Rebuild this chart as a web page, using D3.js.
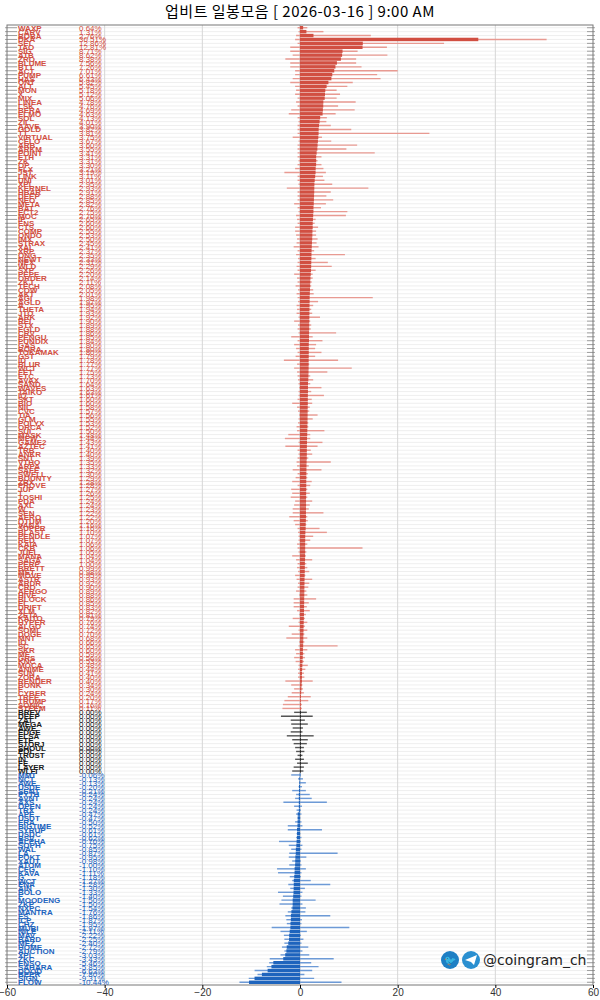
<!DOCTYPE html>
<html><head><meta charset="utf-8">
<script src="https://cdn.jsdelivr.net/npm/d3@7"></script>
<style>body{margin:0;background:#fff}</style>
</head><body><svg id="c" width="600" height="1000"></svg>
<script>
// rows: name, change %, intraday low %, intraday high %
const upNames = ["WAXP","CARV","BOBA","DKA","SEI","TAO","SIG","ATB","ZRO","BLUME","BTT","ACT","PUMP","HAS","ONT","ALT","MON","X","MIX","LINEA","LSK","BERA","ELMO","SOL","ZIL","AAVE","GOLD","TT","VIRTUAL","CELO","ARB","ARKM","POINT","ETH","ZK","OP","FLX","JST","LINK","UNI","XPL","KERNEL","HBAR","DEEP","NEO","META","BAT","ECT2","MOC","IP","ENS","CTS","COMP","ONDO","IMX","STRAX","XAI","XRP","ONG","NEWT","NEX","WLD","SXP","PEPE","ORDER","ZKJ","TECH","COW","AKT","AGI","AGLD","A","THETA","JTO","ARK","REI","STX","EGLD","CRV","PENGU","PUNDIX","GAS","BORA","TOKAMAK","GST","ID","BLUR","WCT","FET","ETC","AVAX","SAND","WAVES","TAIKO","IQ","SXT","BIO","NIL","CVC","TIA","GLM","POLYX","ORCA","SUI","MASK","MEW","GAME2","AZTEC","TRB","ANKR","SNT","VTHO","ARPA","SAFE","SWELL","BOUNTY","ZRX","PROVE","JUP","T","TOSHI","PDA","AXL","W","SEN","AERO","QTUM","VANA","SUPER","BLAST","PENDLE","RED","KAIA","CKB","JUEL","MANA","SAGA","PERP","BRETT","MET","MOVE","ASTR","ARDR","CRO","AERGO","HIVE","BLOCK","EL","DRIFT","XLM","ZETA","KAITO","HYPER","ALGO","SOMI","DOGE","MNT","IO","SC","SKR","ME","GRS","KNC","MOCA","ANIME","SUN","ZORA","RENDER","BONK","F","CYBER","TREE","TRUMP","SONIC","STEEM"];
const upChange = [0.64,1.31,2.76,36.51,12.86,12.81,8.71,8.62,8.38,7.56,7.26,7.01,6.61,6.43,5.82,5.45,5.18,5.12,5.06,4.78,4.76,4.69,4.63,4.13,4.01,3.90,3.82,3.81,3.75,3.67,3.60,3.55,3.41,3.31,3.31,3.30,3.21,3.19,3.11,3.01,2.95,2.93,2.91,2.88,2.85,2.82,2.76,2.75,2.70,2.65,2.60,2.60,2.55,2.53,2.50,2.45,2.41,2.37,2.35,2.33,2.31,2.29,2.26,2.20,2.14,2.11,2.08,2.05,2.01,1.98,1.97,1.95,1.94,1.93,1.92,1.90,1.89,1.88,1.86,1.85,1.84,1.80,1.80,1.80,1.79,1.78,1.77,1.77,1.75,1.73,1.70,1.64,1.63,1.63,1.61,1.60,1.60,1.58,1.57,1.56,1.55,1.53,1.52,1.50,1.48,1.44,1.43,1.41,1.40,1.40,1.39,1.35,1.33,1.32,1.30,1.29,1.28,1.28,1.27,1.26,1.25,1.24,1.24,1.23,1.22,1.22,1.20,1.16,1.16,1.10,1.07,1.07,1.06,1.06,1.05,1.04,1.04,1.00,0.99,0.98,0.95,0.93,0.92,0.90,0.89,0.88,0.86,0.85,0.83,0.82,0.81,0.79,0.76,0.74,0.72,0.70,0.68,0.66,0.65,0.60,0.59,0.56,0.53,0.48,0.44,0.41,0.40,0.40,0.34,0.30,0.24,0.20,0.17,0.16,0.11];
const upLow = [-0.5,-0.3,-0.8,-1,-0.5,-2,-2,-1.5,-3,-2,-2,-1,-1,-1.5,-2,-1,-0.8,-1,-0.5,-0.8,-0.5,-1.8,-2.3,-0.5,-0.3,-0.5,-0.5,-0.5,-1.5,-0.3,-0.5,-0.5,-0.5,-0.5,-0.3,-0.5,-1,-3.2,-0.5,-0.5,-0.3,-2.7,-0.5,-0.5,-0.5,-1.2,-0.5,-0.3,-0.8,-0.6,-0.5,-1,-1,-0.8,-0.6,-0.7,-1.3,-0.5,-0.8,-0.4,-0.5,-0.7,-0.5,-1.2,-0.6,-0.5,-0.9,-0.4,-0.7,-0.5,-0.4,-0.7,-0.6,-0.7,-0.3,-1.2,-0.4,-0.5,-0.3,-1.8,-0.5,-1.2,-0.8,-0.5,-0.9,-3.3,-0.6,-1.2,-0.6,-0.5,-0.4,-0.3,-0.2,-0.3,-0.3,-0.5,-1.6,-0.6,-0.4,-0.2,-0.3,-0.4,-0.7,-0.6,-2.4,-3.1,-0.3,-3.0,-0.5,-0.3,-0.5,-0.7,-0.6,-1.5,-0.5,-0.9,-1.6,-0.5,-1.8,-1.6,-1.9,-1.0,-1.2,-1.5,-1.5,-2.2,-1.3,-1.0,-0.5,-0.4,-0.3,-0.3,-0.6,-0.5,-0.3,-1.6,-0.8,-0.5,-0.6,-0.4,-1.0,-0.7,-0.4,-0.5,-0.8,-0.2,-1.3,-1.3,-1.3,-0.6,-0.2,-1.5,-0.3,-2.3,-0.3,-1.7,-2.8,-0.2,-0.3,-1.0,-0.8,-1.2,-0.9,-0.3,-0.4,-0.4,-0.4,-3.0,-1.8,-1.2,-1.7,-2.5,-3.2,-3.5,-3.6];
const upHigh = [1.5,4.8,14.5,50.5,29.5,17.8,11.8,17.9,11.5,11.5,12.6,20.0,15.8,16.5,10.8,9.7,7.5,8.2,7.5,11.4,7.8,11.2,7.3,5.5,5.4,6.3,10.5,26.5,4.5,6.4,11.7,9.5,15.3,4.4,3.6,4.4,4.8,5.3,4.7,5.0,6.6,14.0,6.3,5.4,6.8,5.3,4.3,9.7,9.4,3.2,3.0,3.7,3.3,3.3,3.6,3.4,3.8,2.9,9.2,3.2,5.7,6.5,3.2,2.6,2.6,2.4,2.3,2.7,2.8,14.9,3.7,2.7,2.3,2.5,4.1,2.1,2.3,2.2,7.4,2.6,4.6,3.3,3.1,4.4,3.1,7.8,1.9,10.6,5.6,2.1,2.7,2.1,4.4,2.3,4.9,2.4,2.5,2.0,1.9,3.6,2.6,1.7,1.7,5.0,2.1,2.1,4.6,3.6,2.2,2.5,1.7,6.3,1.8,4.4,1.6,1.5,2.4,2.1,1.5,2.0,1.5,2.5,2.0,1.8,4.8,1.5,1.6,1.3,4.0,5.5,2.7,2.1,1.5,12.8,1.3,1.2,2.5,1.3,1.5,1.9,1.1,2.5,1.9,1.7,1.3,1.5,3.3,1.8,1.4,2.0,1.2,1.0,1.5,1.0,1.5,0.9,1.5,0.9,7.7,1.5,0.9,1.0,0.8,1.6,1.1,0.8,0.9,2.6,0.5,0.6,0.8,2.2,1.7,0.4,0.4];

const flatNames = ["BREV","DEEP","ZAT","MEGA","AWE","EDGE","ELSA","ETE","STORJ","SHOUL","POL","TRUST","IN","FE","LAYER","WLFI"];
const flatLow = [-1.2,-3.9,-1.9,-1.8,-1.5,-1.9,-2.7,-1.6,-1.3,-1.0,-0.8,-0.5,-1.0,-0.6,-1.3,-1.6];
const flatHigh = [1.4,2.6,1.0,1.6,0.6,0.5,2.8,1.6,1.4,0.8,0.9,0.5,0.8,1.6,0.8,0.7];

const downNames = ["MMT","NCT","AWE","USDE","SENT","PYTH","AVNT","AXS","OPEN","TRX","APE","USDT","ERA","BIGTIME","SYRUP","USDC","BSV","ALPHA","SOPH","WAL","LA","POKT","XAUT","ATOM","CFG","KAVA","G","WCT","ENA","AIN","BOLO","F","MOODENG","ZKP","NXPC","MANTRA","ES","ICP","CHZ","MUBI","NILE","MAV","BARD","MEZ","HOME","AUCTION","XPL","ZKC","ENSO","SAHARA","DOOD","BEER","SIGN","FLOW"];
const downChange = [-0.06,-0.13,-0.13,-0.20,-0.21,-0.24,-0.24,-0.24,-0.24,-0.24,-0.47,-0.47,-0.50,-0.52,-0.61,-0.61,-0.62,-0.70,-0.75,-0.85,-0.87,-0.95,-0.98,-1.00,-1.10,-1.11,-1.18,-1.27,-1.28,-1.30,-1.33,-1.40,-1.50,-1.50,-1.54,-1.76,-1.86,-1.87,-1.95,-1.97,-2.11,-2.22,-2.25,-2.40,-2.72,-2.79,-3.03,-3.43,-5.46,-5.85,-6.63,-7.80,-9.31,-10.44];
const downLow = [-1.8,-0.4,-0.2,-0.3,-1.6,-0.8,-1.0,-3.4,-1.2,-0.7,-0.8,-0.5,-1.0,-2.5,-2.5,-0.7,-0.8,-4.3,-2.3,-1.8,-2.2,-2.3,-1.6,-2.2,-4.7,-4.5,-2.1,-1.6,-2.4,-2.0,-4.5,-3.5,-3.8,-4.2,-1.8,-2.5,-3.0,-2.8,-2.7,-5.8,-4.0,-3.3,-3.2,-3.2,-3.7,-3.2,-4.0,-6.2,-6.3,-6.8,-9.3,-8.7,-10.5,-12.4];
const downHigh = [0.1,0.6,1.2,0.4,1.2,2.0,2.4,5.5,0.4,0.2,0.3,0.1,0.3,0.5,4.5,0.1,0.3,0.2,0.5,0.3,7.7,1.3,0.2,0.3,1.2,0.3,0.2,2.2,6.2,1.0,0.5,0.3,3.2,0.5,1.2,1.1,6.2,0.4,0.3,10.1,1.4,0.2,0.7,0.3,1.7,0.5,1.9,6.9,2.3,3.8,2.5,0.9,2.9,8.5];
const xTicks = [-60,-40,-20,0,20,40,60];

const rows = [];
upNames.forEach((n,i)=>rows.push({n, v:upChange[i], lo:upLow[i], hi:upHigh[i], g:"up"}));
flatNames.forEach((n,i)=>rows.push({n, v:0, lo:flatLow[i], hi:flatHigh[i], g:"flat"}));
downNames.forEach((n,i)=>rows.push({n, v:downChange[i], lo:downLow[i], hi:downHigh[i], g:"down"}));

const col = {up:"#d14f42", flat:"#1a1a1a", down:"#1e64bd"};
const light = {up:"#e89a92", flat:"#555", down:"#6d9ad6"};

const svg = d3.select("#c");
const L = 7, R = 593, T = 25, B = 985;
const x = d3.scaleLinear().domain([-60,60]).range([L,R]);
const y = d3.scaleBand().domain(rows.map((d,i)=>i)).range([T+1,B-1]).paddingInner(0.12);

svg.append("text").attr("x",300).attr("y",17).attr("text-anchor","middle")
  .attr("font-family","'Noto Sans CJK KR', sans-serif").attr("font-size",15)
  .attr("letter-spacing",0.5)
  .text("업비트 일봉모음 [ 2026-03-16 ]  9:00 AM");

const mid = (d,i)=>y(i)+y.bandwidth()/2;
// row grid
svg.append("g").selectAll("line").data(rows).enter().append("line")
  .attr("x1",L).attr("x2",R).attr("y1",mid).attr("y2",mid)
  .attr("stroke","#e4e4e4").attr("stroke-width",0.6);
// side ticks
svg.append("g").selectAll("line").data(rows).enter().append("line")
  .attr("x1",L-2).attr("x2",L+10).attr("y1",mid).attr("y2",mid)
  .attr("stroke","#666").attr("stroke-width",0.6);
svg.append("g").selectAll("line").data(rows).enter().append("line")
  .attr("x1",R-6).attr("x2",R+2).attr("y1",mid).attr("y2",mid)
  .attr("stroke","#666").attr("stroke-width",0.6);

// vertical grid
svg.append("g").selectAll("line").data(xTicks.slice(1,-1)).enter().append("line")
  .attr("x1",d=>x(d)).attr("x2",d=>x(d)).attr("y1",T).attr("y2",B)
  .attr("stroke",d=>d===0?"#bbb":"#d6d6d6").attr("stroke-width",1);
svg.append("rect").attr("x",L).attr("y",T).attr("width",R-L).attr("height",B-T)
  .attr("fill","none").attr("stroke","#777").attr("stroke-width",1);

// high-low range
svg.append("g").selectAll("line").data(rows).enter().append("line")
  .attr("x1",d=>x(d.lo)).attr("x2",d=>x(d.hi)).attr("y1",mid).attr("y2",mid)
  .attr("stroke",d=>light[d.g]).attr("stroke-width",1.4);
// change bars
svg.append("g").selectAll("rect").data(rows).enter().append("rect")
  .attr("x",d=>x(Math.min(0,d.v))).attr("width",d=>Math.max(0.8,Math.abs(x(d.v)-x(0))))
  .attr("y",(d,i)=>y(i)).attr("height",y.bandwidth())
  .attr("fill",d=>col[d.g]);

// labels
const lab = svg.append("g").attr("font-family","'Liberation Sans', Arial, sans-serif")
  .attr("font-size",8).attr("font-weight","bold");
lab.selectAll(".n").data(rows).enter().append("text")
  .attr("x",18).attr("y",(d,i)=>mid(d,i)+3)
  .attr("fill",d=>col[d.g]).text(d=>d.n);
lab.selectAll(".v").data(rows).enter().append("text")
  .attr("x",79).attr("y",(d,i)=>mid(d,i)+3)
  .attr("fill",d=>col[d.g]).attr("font-weight","normal")
  .text(d=>d.v.toFixed(2)+"%");

// x axis
const ax = svg.append("g").attr("transform",`translate(0,${B})`)
  .call(d3.axisBottom(x).tickValues(xTicks).tickSize(3));
ax.select(".domain").remove();
ax.selectAll("text").attr("font-family","'Liberation Sans', Arial, sans-serif").attr("font-size",10).attr("fill","#333").attr("dy","0.5em");

// handle
const wm = svg.append("g").attr("transform","translate(450,960)");
wm.append("circle").attr("r",9).attr("fill","#1d7fc4");
wm.append("text").attr("y",4).attr("text-anchor","middle").attr("font-size",10).attr("fill","#fff").attr("font-family","'DejaVu Sans'").text("🐦");
wm.append("circle").attr("cx",21).attr("r",9).attr("fill","#2a8fd0");
wm.append("path").attr("d","M15,0 L27,-5 L24,5 L21,2 Z").attr("fill","#fff");
wm.append("text").attr("x",33).attr("y",5).attr("font-family","'DejaVu Sans', sans-serif")
  .attr("font-size",14).attr("fill","#222").text("@coingram_ch");
</script></body></html>
